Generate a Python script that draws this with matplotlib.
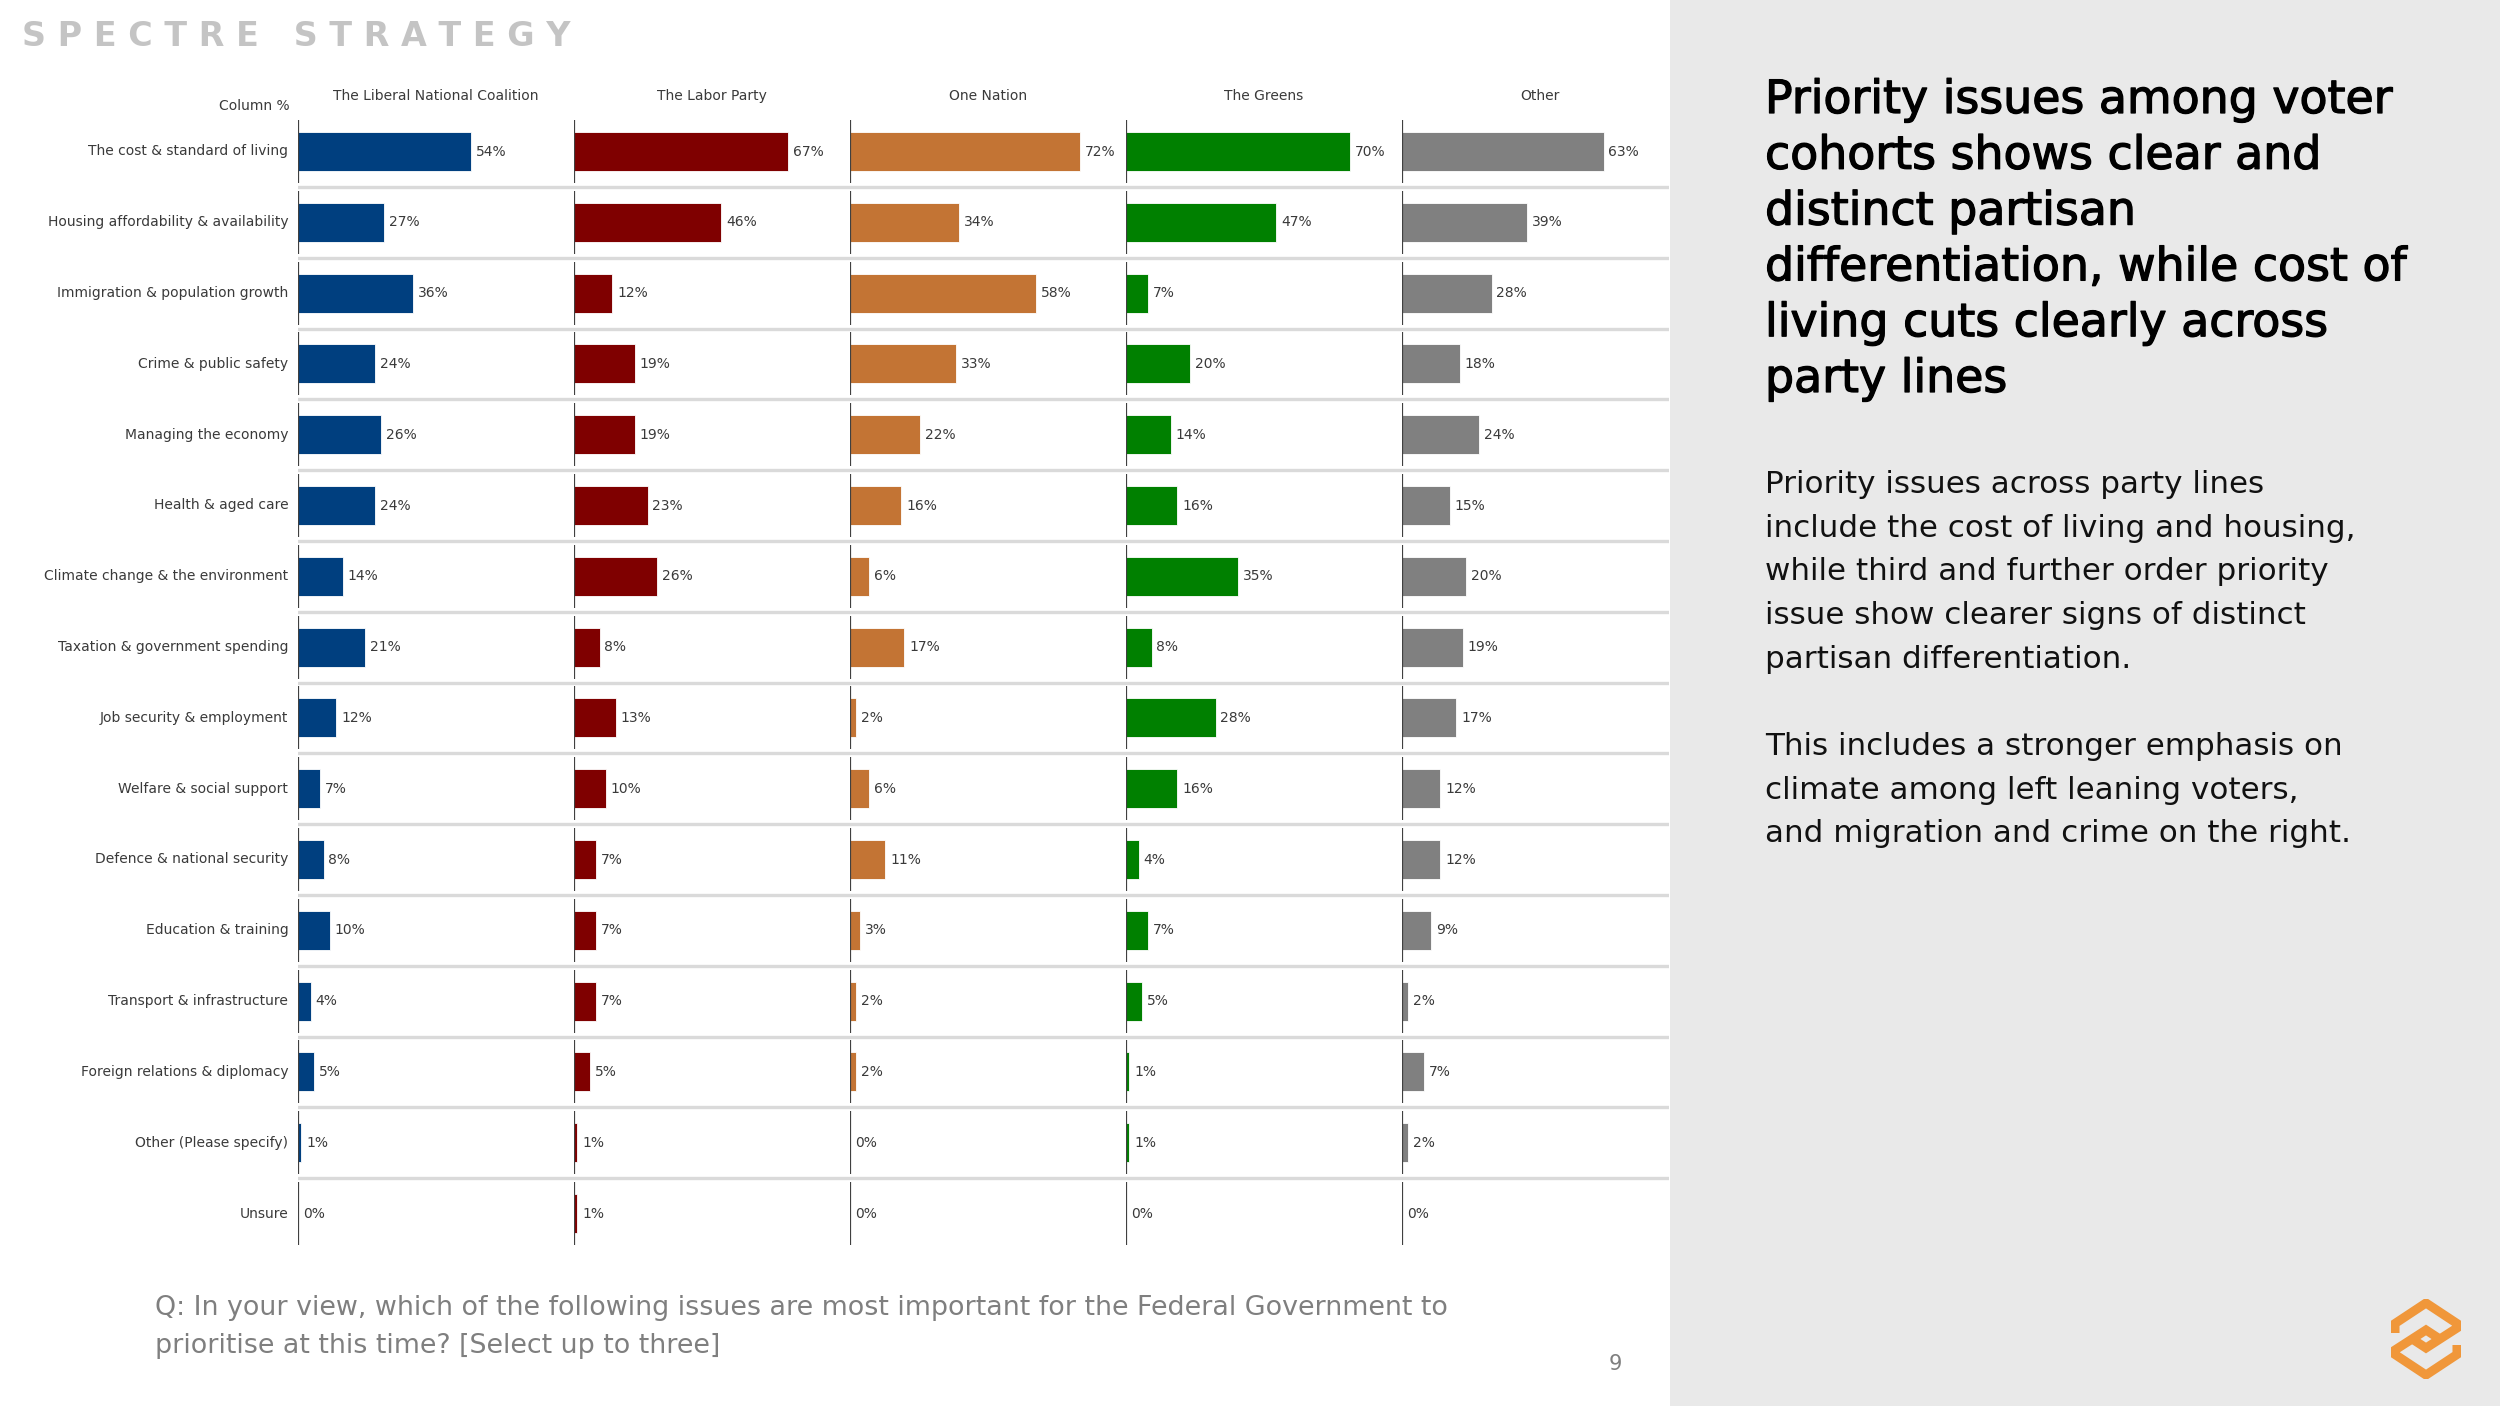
import matplotlib
matplotlib.use("Agg")
import matplotlib.pyplot as plt
from matplotlib.patches import Rectangle
import matplotlib.patheffects as pe

plt.rcParams['font.family'] = ['DejaVu Sans']

# ---------------- data ----------------
issues = [
    "The cost & standard of living",
    "Housing affordability & availability",
    "Immigration & population growth",
    "Crime & public safety",
    "Managing the economy",
    "Health & aged care",
    "Climate change & the environment",
    "Taxation & government spending",
    "Job security & employment",
    "Welfare & social support",
    "Defence & national security",
    "Education & training",
    "Transport & infrastructure",
    "Foreign relations & diplomacy",
    "Other (Please specify)",
    "Unsure",
]
parties = ["The Liberal National Coalition", "The Labor Party", "One Nation",
           "The Greens", "Other"]
liberal = [54, 27, 36, 24, 26, 24, 14, 21, 12, 7, 8, 10, 4, 5, 1, 0]
labor = [67, 46, 12, 19, 19, 23, 26, 8, 13, 10, 7, 7, 7, 5, 1, 1]
one_nation = [72, 34, 58, 33, 22, 16, 6, 17, 2, 6, 11, 3, 2, 2, 0, 0]
greens = [70, 47, 7, 20, 14, 16, 35, 8, 28, 16, 4, 7, 5, 1, 1, 0]
other = [63, 39, 28, 18, 24, 15, 20, 19, 17, 12, 12, 9, 2, 7, 2, 0]
series = [liberal, labor, one_nation, greens, other]
colors = ["#003F7F", "#7F0000", "#C37434", "#008000", "#808080"]

title_lines = ["Priority issues among voter", "cohorts shows clear and",
               "distinct partisan", "differentiation, while cost of",
               "living cuts clearly across", "party lines"]
body1 = ["Priority issues across party lines",
         "include the cost of living and housing,",
         "while third and further order priority",
         "issue show clearer signs of distinct",
         "partisan differentiation."]
body2 = ["This includes a stronger emphasis on",
         "climate among left leaning voters,",
         "and migration and crime on the right."]
question = ["Q: In your view, which of the following issues are most important for the Federal Government to",
            "prioritise at this time? [Select up to three]"]

# ---------------- figure ----------------
W, H = 2500, 1406
fig = plt.figure(figsize=(W / 100, H / 100), dpi=100)
fig.patch.set_facecolor("white")


def fx(x):
    return x / W


def fy(y):
    return 1 - y / H


# right grey panel
fig.patches.append(Rectangle((fx(1670), 0), 1 - fx(1670), 1, transform=fig.transFigure,
                             facecolor="#E9E9E9", edgecolor="none", zorder=-5))

n = len(issues)
row_h = 70.8
top = 151.5 - row_h / 2
bottom = top + n * row_h
col_x0 = 298
col_w = 276
xmax = col_w / 3.2

# background axes for separators
bg = fig.add_axes([fx(col_x0), fy(bottom), fx(1669) - fx(col_x0), (bottom - top) / H])
bg.set_xlim(0, 1)
bg.set_ylim(n - 0.5, -0.5)
bg.axis("off")
for i in range(n - 1):
    bg.axhline(i + 0.5, color="#DADADA", lw=2.4, zorder=0)

label_color = "#3A3A3A"
fs_small = 10

for k, (vals, col, name) in enumerate(zip(series, colors, parties)):
    x0 = col_x0 + k * col_w
    ax = fig.add_axes([fx(x0), fy(bottom), col_w / W, (bottom - top) / H])
    ax.set_xlim(0, xmax)
    ax.set_ylim(n - 0.5, -0.5)
    ax.axis("off")
    ax.patch.set_alpha(0)
    ax.barh(range(n), vals, height=0.55, color=col, edgecolor="white", linewidth=0.6, zorder=2)
    for i, v in enumerate(vals):
        ax.vlines(0, i - 0.445, i + 0.445, color="#404040", lw=1.6, zorder=3)
        ax.annotate(f"{v}%", (v, i), xytext=(3.5, 0), textcoords="offset points",
                    va="center", ha="left", fontsize=fs_small, color=label_color)
    fig.text(fx(x0 + col_w / 2), fy(96), name, ha="center", va="center",
             fontsize=fs_small, color=label_color)
    if k == 0:
        for i, lab in enumerate(issues):
            ax.annotate(lab, (0, i), xytext=(-7, 0), textcoords="offset points",
                        va="center", ha="right", fontsize=fs_small, color=label_color)

fig.text(fx(290), fy(106), "Column %", ha="right", va="center", fontsize=fs_small,
         color=label_color)

# brand text
fig.text(fx(22), fy(36), "S P E C T R E   S T R A T E G Y", ha="left", va="center",
         fontsize=24, fontweight="bold", color="#C4C4C4")

# title
for j, line in enumerate(title_lines):
    fig.text(fx(1765), fy(113 + 55.8 * j), line, ha="left", va="baseline",
             fontsize=33, color="#000000",
             path_effects=[pe.withStroke(linewidth=0.9, foreground="#000000")])

for j, line in enumerate(body1):
    fig.text(fx(1765), fy(493 + 43.7 * j), line, ha="left", va="baseline",
             fontsize=22.3, color="#111111")
for j, line in enumerate(body2):
    fig.text(fx(1765), fy(755 + 43.7 * j), line, ha="left", va="baseline",
             fontsize=22.3, color="#111111")

for j, line in enumerate(question):
    fig.text(fx(155), fy(1315 + 38 * j), line, ha="left", va="baseline",
             fontsize=19.4, color="#7F7F7F")

fig.text(fx(1615), fy(1364), "9", ha="center", va="center", fontsize=15, color="#7F7F7F")

# logo (bottom right)
lx, ly = 2391, 1299
logo_ax = fig.add_axes([fx(lx), fy(ly + 80), 70 / W, 80 / H])
logo_ax.set_xlim(0, 70)
logo_ax.set_ylim(80, 0)
logo_ax.axis("off")
orange = "#F0973A"
upper = [(4, 34), (4, 24.5), (35, 4), (66, 24.5), (66, 29), (35, 49), (22, 40.5)]
lower = [(66, 46), (66, 55.5), (35, 76), (4, 55.5), (4, 51), (35, 31), (48, 39.5)]
for path in (upper, lower):
    xs, ys = zip(*path)
    logo_ax.plot(xs, ys, color=orange, lw=6.5, solid_joinstyle="miter", solid_capstyle="butt")

fig.savefig("out.png", dpi=100)
